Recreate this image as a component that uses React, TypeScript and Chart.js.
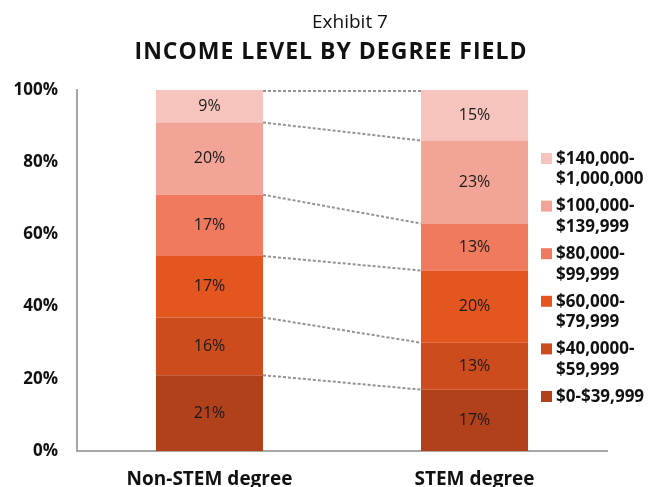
import React, { useEffect, useRef } from "react";
import { Chart, registerables } from "chart.js";

Chart.register(...registerables);

const categories = ["Non-STEM degree", "STEM degree"];
const seriesNames = [
  "$0-$39,999",
  "$40,0000-$59,999",
  "$60,000-$79,999",
  "$80,000-$99,999",
  "$100,000-$139,999",
  "$140,000-$1,000,000",
];
const legendLines = [
  ["$0-$39,999"],
  ["$40,0000-", "$59,999"],
  ["$60,000-", "$79,999"],
  ["$80,000-", "$99,999"],
  ["$100,000-", "$139,999"],
  ["$140,000-", "$1,000,000"],
];
const nonStemValues = [21, 16, 17, 17, 20, 9];
const stemValues = [17, 13, 20, 13, 23, 15];
const seriesColors = ["#B1411A", "#CC4C1D", "#E4561F", "#F07A5E", "#F2A497", "#F6C4BC"];
const yTickValues = [0, 20, 40, 60, 80, 100];
const titleText = "INCOME LEVEL BY DEGREE FIELD";
const exhibitText = "Exhibit 7";

const FONT = "'Open Sans', 'DejaVu Sans', sans-serif";

const titlePlugin = {
  id: "titles",
  afterDraw(chart: any) {
    const ctx = chart.ctx;
    ctx.save();
    ctx.fillStyle = "#111";
    ctx.textAlign = "center";
    ctx.textBaseline = "alphabetic";
    ctx.font = `19px ${FONT}`;
    ctx.fillText(exhibitText, 350, 28);
    ctx.font = `bold 23px ${FONT}`;
    try {
      (ctx as any).letterSpacing = "1px";
    } catch (e) {}
    ctx.fillText(titleText, 331, 59);
    try {
      (ctx as any).letterSpacing = "0px";
    } catch (e) {}
    ctx.restore();
  },
};

const connectorPlugin = {
  id: "connectors",
  afterDatasetsDraw(chart: any) {
    const ctx = chart.ctx;
    const top = chart.chartArea.top;
    ctx.save();
    ctx.strokeStyle = "#939393";
    ctx.lineWidth = 2;
    ctx.setLineDash([3, 2]);
    chart.data.datasets.forEach((_: any, i: number) => {
      const meta = chart.getDatasetMeta(i);
      const a = meta.data[0] as any;
      const b = meta.data[1] as any;
      if (!a || !b) return;
      const x0 = a.x + a.width / 2;
      const x1 = b.x - b.width / 2;
      const y0 = Math.max(top + 1, a.y);
      const y1 = Math.max(top + 1, b.y);
      ctx.beginPath();
      ctx.moveTo(x0, y0);
      ctx.lineTo(x1, y1);
      ctx.stroke();
    });
    ctx.restore();
  },
};

const valueLabelPlugin = {
  id: "valueLabels",
  afterDatasetsDraw(chart: any) {
    const ctx = chart.ctx;
    const top = chart.chartArea.top;
    ctx.save();
    ctx.fillStyle = "#1a1a1a";
    ctx.font = `16px ${FONT}`;
    ctx.textAlign = "center";
    ctx.textBaseline = "middle";
    chart.data.datasets.forEach((ds: any, i: number) => {
      const meta = chart.getDatasetMeta(i);
      meta.data.forEach((el: any, j: number) => {
        const yTop = Math.max(top, el.y);
        const yMid = (yTop + el.base) / 2;
        ctx.fillText(ds.data[j] + "%", el.x, yMid);
      });
    });
    ctx.restore();
  },
};

const legendPlugin = {
  id: "customLegend",
  afterDraw(chart: any) {
    const ctx = chart.ctx;
    ctx.save();
    ctx.font = `bold 17px ${FONT}`;
    ctx.textAlign = "left";
    ctx.textBaseline = "middle";
    const n = legendLines.length;
    for (let k = 0; k < n; k++) {
      const idx = n - 1 - k;
      const yFirst = 159 + k * 47.6;
      ctx.fillStyle = seriesColors[idx];
      ctx.fillRect(541, yFirst - 6, 11, 11);
      ctx.fillStyle = "#111";
      legendLines[idx].forEach((line, li) => {
        ctx.fillText(line, 556, yFirst + li * 20.5);
      });
    }
    ctx.restore();
  },
};

export default function App() {
  const canvasRef = useRef<HTMLCanvasElement | null>(null);

  useEffect(() => {
    if (!canvasRef.current) return;
    const datasets = seriesNames.map((name, i) => ({
      label: name,
      data: [nonStemValues[i], stemValues[i]],
      backgroundColor: seriesColors[i],
      borderWidth: 0,
      categoryPercentage: 1,
      barPercentage: 0.404,
      clip: 0,
    }));
    const chart = new Chart(canvasRef.current, {
      type: "bar",
      data: { labels: categories, datasets },
      plugins: [connectorPlugin, valueLabelPlugin, legendPlugin, titlePlugin],
      options: {
        animation: false,
        responsive: false,
        events: [],
        layout: { padding: { top: 90, right: 56, left: 0, bottom: 0 } },
        plugins: {
          legend: { display: false },
          tooltip: { enabled: false },
          title: { display: false },
        },
        scales: {
          x: {
            stacked: true,
            grid: { display: false, drawTicks: false },
            border: { display: true, color: "#a6a6a6", width: 2 },
            ticks: {
              color: "#111",
              font: { family: FONT, size: 19, weight: "bold" },
              padding: 17,
            },
            afterFit(scale: any) {
              scale.height = 36;
            },
          },
          y: {
            stacked: true,
            min: 0,
            max: 100,
            grid: { display: false, drawTicks: false },
            border: { display: true, color: "#a6a6a6", width: 2 },
            afterBuildTicks(scale: any) {
              scale.ticks = yTickValues.map((v) => ({ value: v }));
            },
            ticks: {
              color: "#111",
              font: { family: FONT, size: 17, weight: "bold" },
              padding: 19,
              callback: (v: any) => v + "%",
            },
            afterFit(scale: any) {
              scale.width = 77;
            },
          },
        },
      },
    });
    return () => chart.destroy();
  }, []);

  return (
    <div style={{ position: "absolute", left: 0, top: 0, width: 663, height: 487, background: "#fff" }}>
      <canvas ref={canvasRef} width={663} height={487} style={{ display: "block" }} />
    </div>
  );
}
